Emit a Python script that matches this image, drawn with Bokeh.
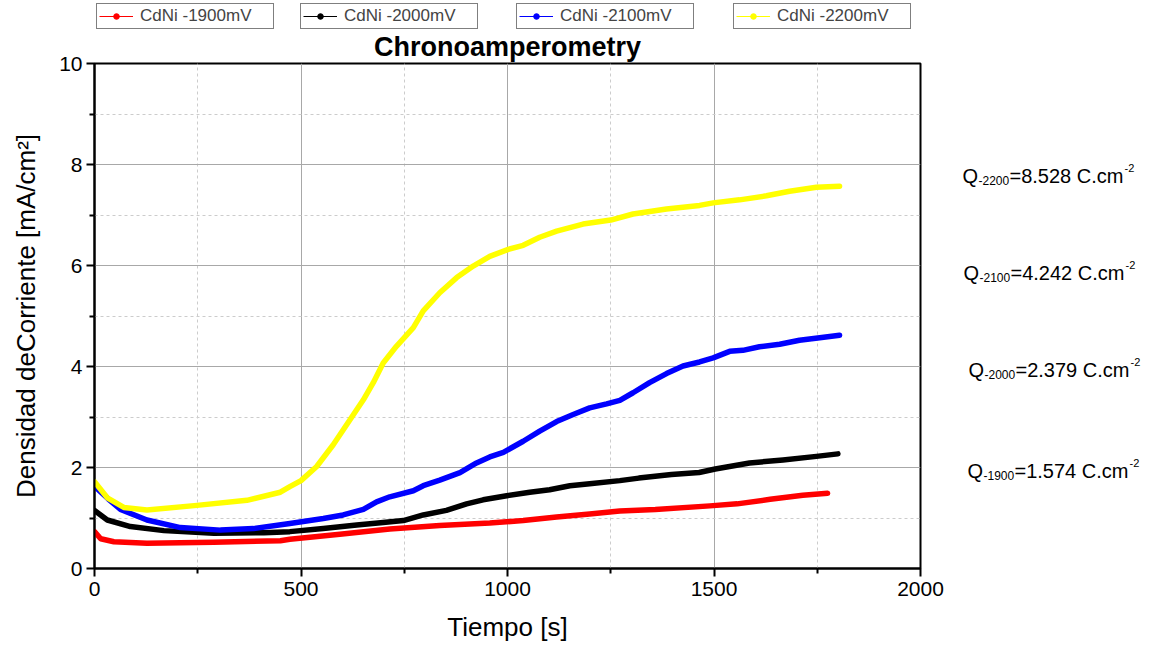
import math
from bokeh.plotting import figure
from bokeh.layouts import column, row
from bokeh.models import (Legend, LegendItem, Label, Range1d, FixedTicker,
                          ColumnDataSource)
from bokeh.embed import file_html
from bokeh.resources import INLINE

# ---------------- data ----------------
t_1900 = [0, 15, 47, 127, 289, 450, 473, 594, 715, 836, 957, 1038, 1119, 1199,
          1272, 1358, 1490, 1556, 1636, 1715, 1775]
j_1900 = [0.73, 0.59, 0.53, 0.50, 0.52, 0.55, 0.58, 0.68, 0.78, 0.85, 0.90, 0.95,
          1.02, 1.08, 1.14, 1.17, 1.24, 1.28, 1.37, 1.45, 1.49]

t_2000 = [0, 31, 87, 168, 289, 410, 473, 554, 635, 699, 748, 796, 852, 901, 941,
          998, 1054, 1102, 1151, 1199, 1272, 1318, 1397, 1464, 1503, 1586, 1667,
          1748, 1800]
j_2000 = [1.15, 0.96, 0.83, 0.75, 0.70, 0.71, 0.73, 0.79, 0.86, 0.91, 0.95, 1.06,
          1.15, 1.28, 1.36, 1.44, 1.51, 1.56, 1.64, 1.68, 1.74, 1.79, 1.86, 1.90,
          1.97, 2.09, 2.15, 2.22, 2.27]

t_2100 = [0, 33, 63, 127, 208, 305, 385, 473, 554, 602, 651, 683, 715, 772, 796,
          836, 885, 925, 957, 990, 1038, 1078, 1119, 1159, 1199, 1240, 1272, 1304,
          1344, 1385, 1425, 1465, 1498, 1538, 1570, 1610, 1659, 1707, 1756, 1804]
j_2100 = [1.63, 1.38, 1.17, 0.96, 0.81, 0.76, 0.79, 0.89, 0.99, 1.06, 1.17, 1.32,
          1.42, 1.54, 1.64, 1.75, 1.90, 2.09, 2.21, 2.30, 2.52, 2.72, 2.91, 3.05,
          3.18, 3.26, 3.33, 3.48, 3.68, 3.86, 4.01, 4.09, 4.17, 4.30, 4.32, 4.39,
          4.44, 4.52, 4.57, 4.62]

t_2200 = [0, 31, 71, 127, 248, 369, 450, 473, 500, 538, 578, 619, 651, 675, 699,
          731, 772, 796, 836, 877, 917, 957, 1002, 1038, 1078, 1119, 1183, 1250,
          1304, 1385, 1465, 1498, 1562, 1627, 1683, 1748, 1804]
j_2200 = [1.72, 1.40, 1.21, 1.16, 1.25, 1.35, 1.51, 1.62, 1.74, 2.02, 2.45, 2.95,
          3.34, 3.68, 4.07, 4.40, 4.77, 5.10, 5.46, 5.76, 5.99, 6.18, 6.32, 6.40,
          6.56, 6.68, 6.82, 6.90, 7.02, 7.12, 7.19, 7.24, 7.30, 7.38, 7.47, 7.55,
          7.57]

series_names = ["CdNi -1900mV", "CdNi -2000mV", "CdNi -2100mV", "CdNi -2200mV"]
series_colors = ["#FF0000", "#000000", "#0000FF", "#FFFF00"]

q_subscripts = ["-2200", "-2100", "-2000", "-1900"]
q_values = ["8.528", "4.242", "2.379", "1.574"]

x_ticks = [0, 500, 1000, 1500, 2000]
x_minor = [250, 750, 1250, 1750]
y_ticks = [0, 2, 4, 6, 8, 10]
y_minor = [1, 3, 5, 7, 9]

FONT = "Liberation Sans"
TOTAL_W = 1150
TOP_H = 29
MAIN_W = 945
MAIN_H = 619
RIGHT_W = TOTAL_W - MAIN_W
BORDER_TOP = 34
BORDER_BOTTOM = MAIN_H - BORDER_TOP - 505

y_range = Range1d(0, 10)

# ---------------- main chart ----------------
p = figure(width=MAIN_W, height=MAIN_H, x_range=Range1d(0, 2000), y_range=y_range,
           output_backend="svg", toolbar_location=None,
           min_border_left=94, min_border_right=25, min_border_top=BORDER_TOP,
           min_border_bottom=BORDER_BOTTOM)
p.background_fill_color = "white"
p.border_fill_color = "white"
p.outline_line_color = "black"
p.outline_line_width = 2

p.title.text = "Chronoamperometry"
p.title.align = "center"
p.title.vertical_align = "top"
p.title.text_font = FONT
p.title.text_font_style = "bold"
p.title.text_font_size = "27px"
p.title.text_color = "black"
p.title.standoff = 0

p.xaxis.ticker = FixedTicker(ticks=x_ticks, minor_ticks=x_minor)
p.yaxis.ticker = FixedTicker(ticks=y_ticks, minor_ticks=y_minor)

for ax in (p.xaxis[0], p.yaxis[0]):
    ax.axis_line_width = 2
    ax.axis_line_color = "black"
    ax.major_tick_line_width = 2
    ax.minor_tick_line_width = 2
    ax.major_tick_in = 0
    ax.major_tick_out = 8
    ax.minor_tick_in = 0
    ax.minor_tick_out = 5
    ax.major_label_text_font = FONT
    ax.major_label_text_font_size = "21px"
    ax.major_label_text_color = "black"
    ax.axis_label_text_font = FONT
    ax.axis_label_text_font_style = "normal"
    ax.axis_label_text_font_size = "26px"
    ax.axis_label_text_color = "black"

p.xaxis.axis_label = "Tiempo [s]"
p.yaxis.axis_label = "Densidad deCorriente [mA/cm²]"
p.xaxis.major_label_standoff = 5
p.xaxis.axis_label_standoff = 13
p.yaxis.major_label_standoff = 4
p.yaxis.axis_label_standoff = 15

for g in (p.xgrid[0], p.ygrid[0]):
    g.grid_line_color = "#a8a8a8"
    g.grid_line_width = 1
    g.minor_grid_line_color = "#cccccc"
    g.minor_grid_line_dash = "3 3"
    g.minor_grid_line_width = 1

all_t = [t_1900, t_2000, t_2100, t_2200]
all_j = [j_1900, j_2000, j_2100, j_2200]

for color, tt, jj in zip(series_colors, all_t, all_j):
    src = ColumnDataSource(data=dict(t=tt, j=jj))
    p.line("t", "j", source=src, line_color=color, line_width=5.5,
           line_join="round", line_cap="round")

# ---------------- legend strip (top) ----------------
top = figure(width=TOTAL_W, height=TOP_H, x_range=Range1d(0, TOTAL_W),
             y_range=Range1d(0, TOP_H), output_backend="svg", toolbar_location=None,
             min_border_left=0, min_border_right=0, min_border_top=0,
             min_border_bottom=0)
top.axis.visible = False
top.grid.visible = False
top.outline_line_color = None
top.background_fill_color = "white"
top.border_fill_color = "white"

legend_x = [96, 300, 516, 733]
for name, color, lx in zip(series_names, series_colors, legend_x):
    lr = top.line(x=[math.nan], y=[math.nan], line_color=color, line_width=1)
    dr = top.scatter(x=[math.nan], y=[math.nan], marker="circle", size=5,
                     fill_color=color, line_color=color)
    leg = Legend(items=[LegendItem(label=name, renderers=[lr, dr])],
                 location=(lx, 0), orientation="horizontal",
                 padding=2, margin=0, spacing=0, glyph_width=34, glyph_height=14,
                 label_standoff=7, label_text_font=FONT,
                 label_text_font_size="17px", label_height=14, label_width=131,
                 border_line_color="black", border_line_width=1,
                 background_fill_color="white", background_fill_alpha=1)
    top.add_layout(leg)

# ---------------- charge annotations (right) ----------------
side = figure(width=RIGHT_W, height=MAIN_H, x_range=Range1d(0, RIGHT_W),
              y_range=y_range, output_backend="svg", toolbar_location=None,
              min_border_left=0, min_border_right=0, min_border_top=BORDER_TOP,
              min_border_bottom=BORDER_BOTTOM)
side.axis.visible = False
side.grid.visible = False
side.outline_line_color = None
side.background_fill_color = "white"
side.border_fill_color = "white"

q_x = [17, 18, 23, 22]
q_y = [7.77, 5.85, 3.93, 1.93]
for sub, val, qx, qy in zip(q_subscripts, q_values, q_x, q_y):
    common = dict(x=qx, y=qy, text_baseline="alphabetic", text_font=FONT,
                  text_color="black", text_align="left")
    side.add_layout(Label(text="Q", text_font_size="20px", **common))
    side.add_layout(Label(text=sub, text_font_size="12px", x_offset=16, y_offset=-4,
                          **common))
    side.add_layout(Label(text="=" + val + " C.cm", text_font_size="20px",
                          x_offset=47, **common))
    side.add_layout(Label(text="-2", text_font_size="11px", x_offset=162, y_offset=8,
                          **common))

layout = column(top, row(p, side, spacing=0), spacing=0)
open("out.html", "w").write(file_html(layout, INLINE))
